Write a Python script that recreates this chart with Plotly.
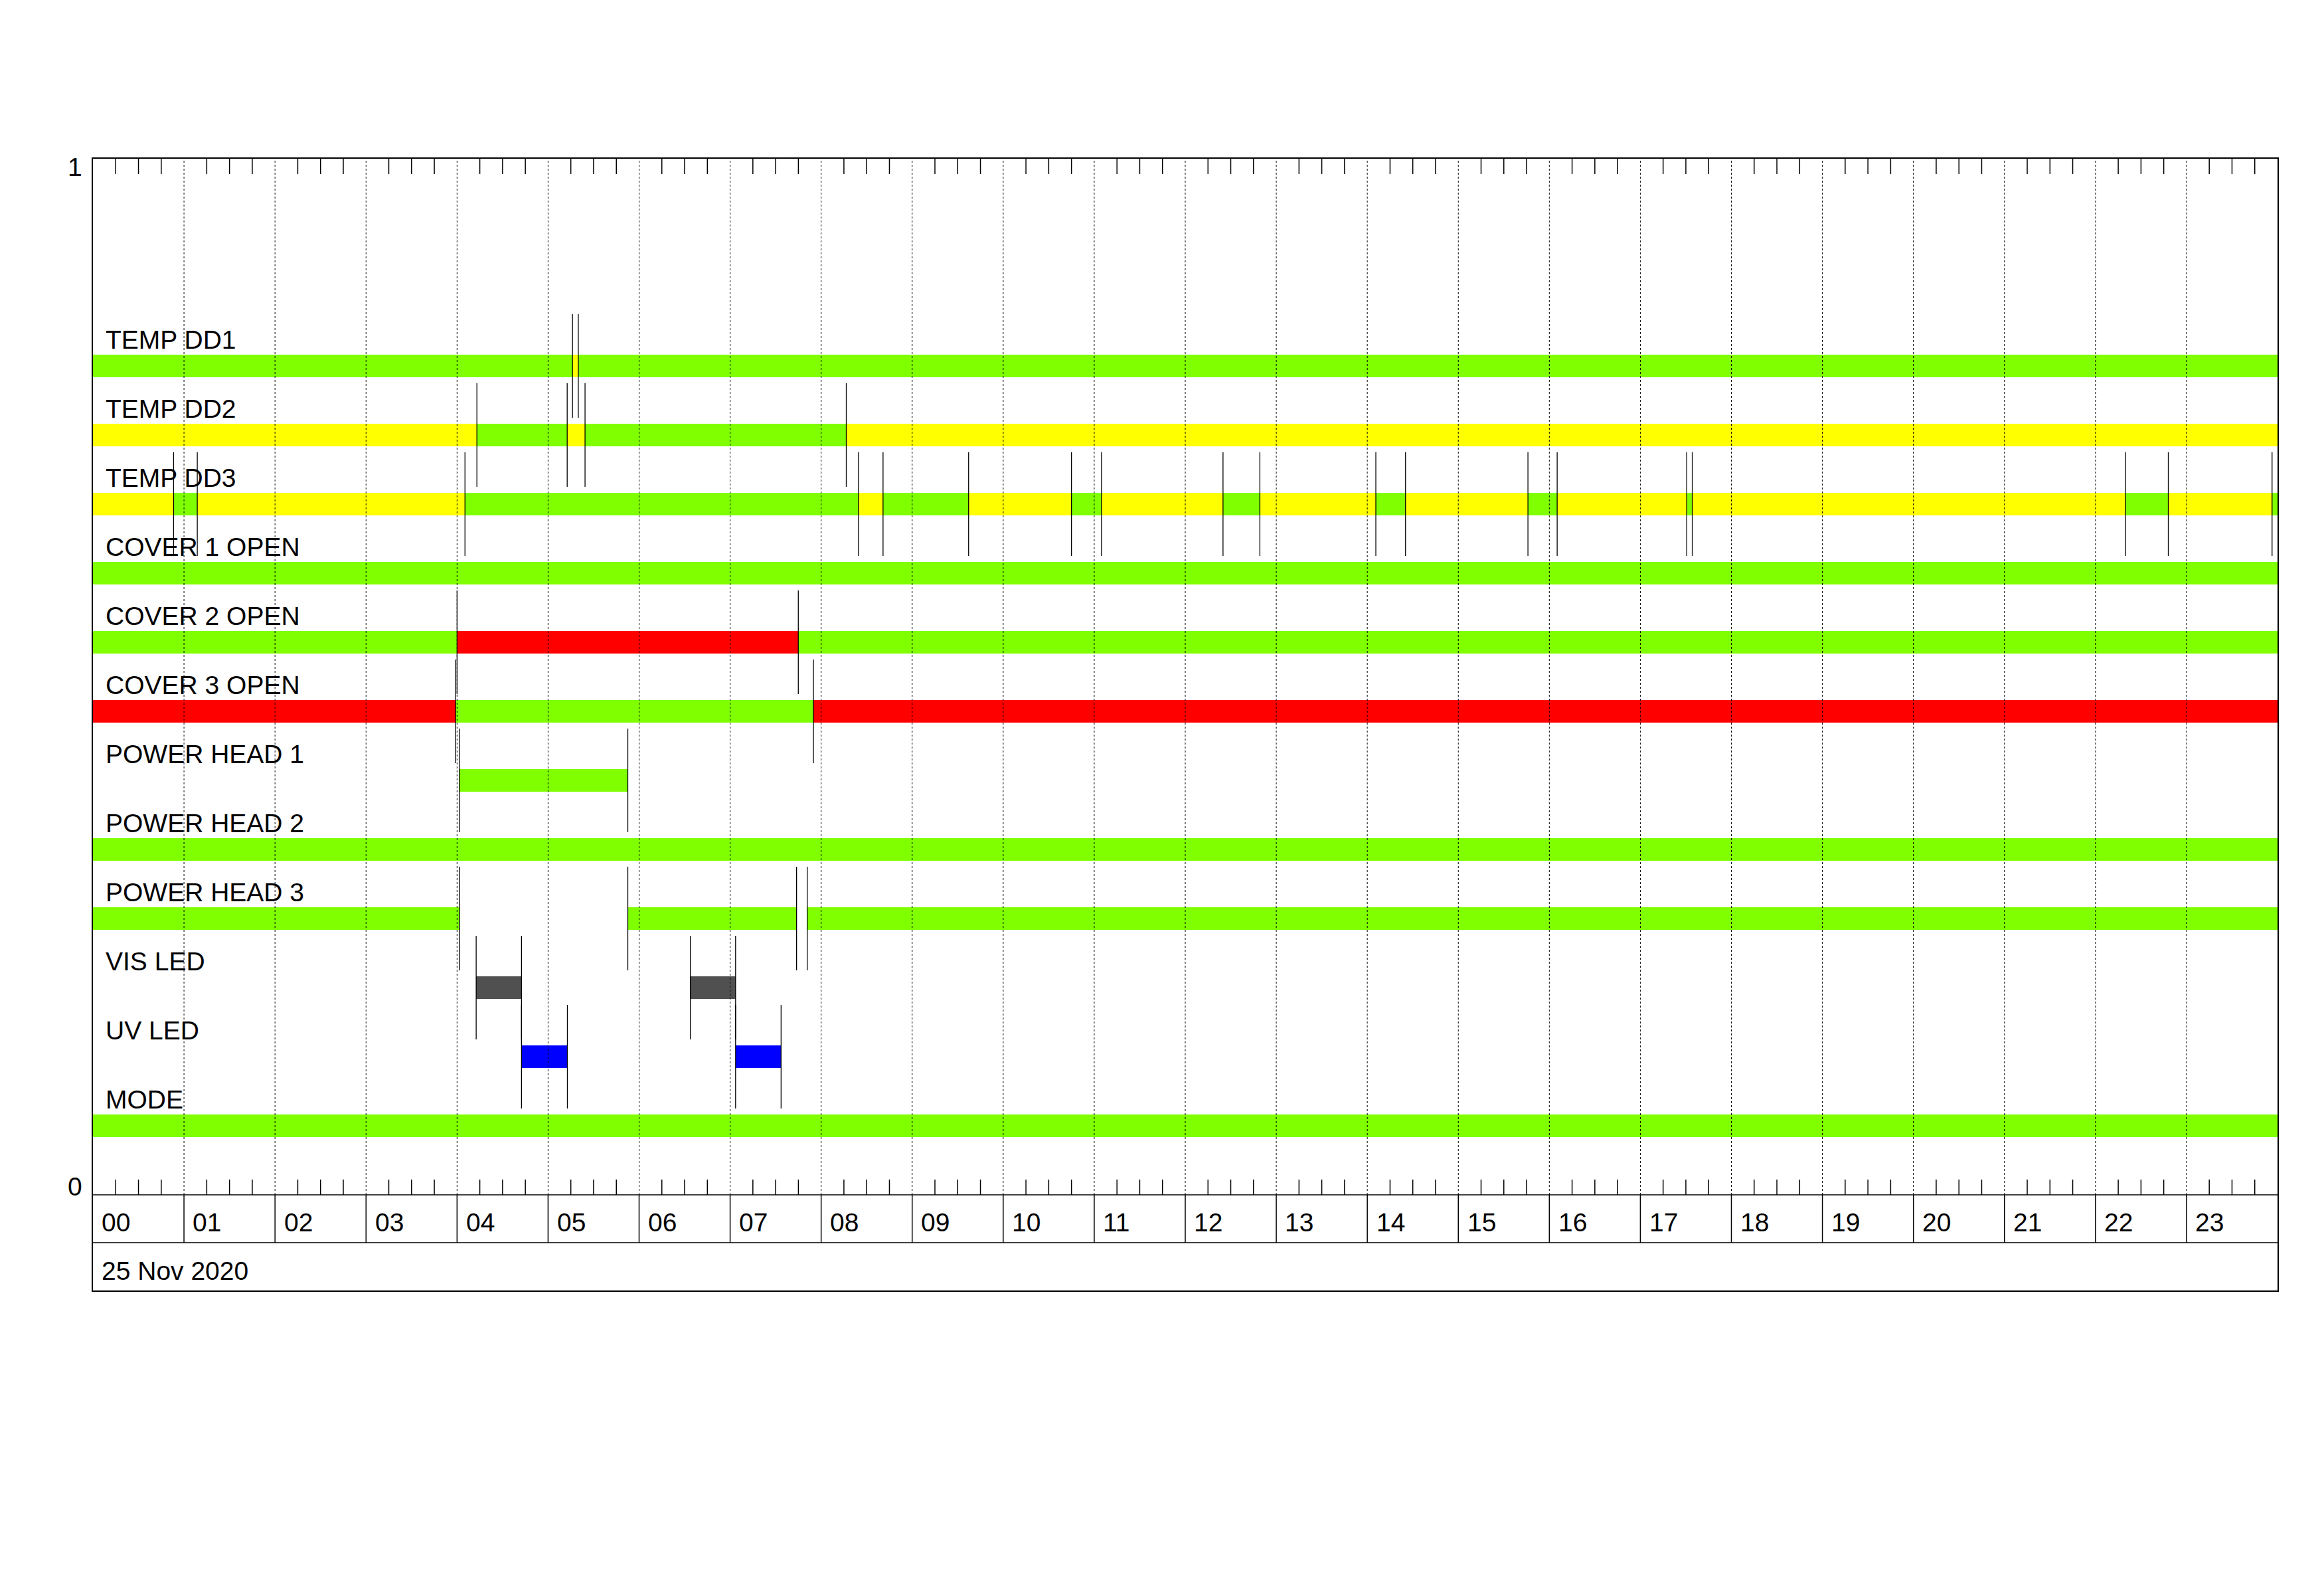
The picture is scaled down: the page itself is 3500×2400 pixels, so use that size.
"""
Status timeline for one day of housekeeping flags (25 Nov 2020).

Each row is a flag drawn as coloured state segments over 24 hours,
with a thin black marker at every change of state.
"""

import plotly.graph_objects as go

# Colours for the flag states
STATE_COLORS = {
    'ok': '#7FFF00',    # green
    'warn': '#FFFF00',  # yellow
    'bad': '#FF0000',   # red
    'vis': '#505050',   # dark grey
    'uv': '#0000FF',    # blue
}

ROW_LABELS = [
    'TEMP DD1', 'TEMP DD2', 'TEMP DD3',
    'COVER 1 OPEN', 'COVER 2 OPEN', 'COVER 3 OPEN',
    'POWER HEAD 1', 'POWER HEAD 2', 'POWER HEAD 3',
    'VIS LED', 'UV LED', 'MODE',
]

# Segment edges (hours of day) and the state in between; None = no data
TEMP_DD1_EDGES = [0, 5.268, 5.332, 24]
TEMP_DD1_STATES = ['ok', 'warn', 'ok']

TEMP_DD2_EDGES = [0, 4.218, 5.21, 5.406, 8.276, 24]
TEMP_DD2_STATES = ['warn', 'ok', 'warn', 'ok', 'warn']

TEMP_DD3_EDGES = [0, 0.886, 1.146, 4.087, 8.41, 8.68, 9.62, 10.75, 11.08,
                  12.415, 12.82, 14.094, 14.42, 15.765, 16.086, 17.51, 17.57,
                  22.33, 22.80, 23.94, 24]
TEMP_DD3_STATES = ['warn', 'ok'] * 10

COVER1_EDGES = [0, 24]
COVER1_STATES = ['ok']

COVER2_EDGES = [0, 4.0, 7.749, 24]
COVER2_STATES = ['ok', 'bad', 'ok']

COVER3_EDGES = [0, 3.985, 7.915, 24]
COVER3_STATES = ['bad', 'ok', 'bad']

HEAD1_EDGES = [0, 4.025, 5.876, 24]
HEAD1_STATES = [None, 'ok', None]

HEAD2_EDGES = [0, 24]
HEAD2_STATES = ['ok']

HEAD3_EDGES = [0, 4.027, 5.876, 7.73, 7.847, 24]
HEAD3_STATES = ['ok', None, 'ok', None, 'ok']

VIS_LED_EDGES = [0, 4.21, 4.708, 6.563, 7.06, 24]
VIS_LED_STATES = [None, 'vis', None, 'vis', None]

UV_LED_EDGES = [0, 4.708, 5.212, 7.06, 7.56, 24]
UV_LED_STATES = [None, 'uv', None, 'uv', None]

MODE_EDGES = [0, 24]
MODE_STATES = ['ok']

HOUR_LABELS = ['%02d' % h for h in range(24)]
DATE_LABEL = '25 Nov 2020'

ROWS = [
    (TEMP_DD1_EDGES, TEMP_DD1_STATES), (TEMP_DD2_EDGES, TEMP_DD2_STATES),
    (TEMP_DD3_EDGES, TEMP_DD3_STATES), (COVER1_EDGES, COVER1_STATES),
    (COVER2_EDGES, COVER2_STATES), (COVER3_EDGES, COVER3_STATES),
    (HEAD1_EDGES, HEAD1_STATES), (HEAD2_EDGES, HEAD2_STATES),
    (HEAD3_EDGES, HEAD3_STATES), (VIS_LED_EDGES, VIS_LED_STATES),
    (UV_LED_EDGES, UV_LED_STATES), (MODE_EDGES, MODE_STATES),
]

FONT = 'Liberation Sans, Arial, sans-serif'
FONT_SIZE = 39
BAR_H = 0.0212       # bar thickness in y units
MARK_H = 0.05        # half height of change markers
TICK_LEN = 0.0147
HOUR_ROW = -0.04615  # bottom of the hour label row
DATE_ROW = -0.0923   # bottom of the date row

fig = go.Figure()

# Hour grid (dotted) from 0 to 1
gx, gy = [], []
for h in range(1, 24):
    gx += [h, h, None]
    gy += [0, 1, None]
fig.add_trace(go.Scatter(x=gx, y=gy, mode='lines', hoverinfo='skip',
                         line=dict(color='black', width=1, dash='dot')))

# Quarter-hour ticks at top and bottom, plus hour-row separators
tx, ty = [], []
for h in range(24):
    for q in (0.25, 0.5, 0.75):
        tx += [h + q, h + q, None, h + q, h + q, None]
        ty += [1, 1 - TICK_LEN, None, 0, TICK_LEN, None]
for h in range(1, 24):
    tx += [h, h, None]
    ty += [HOUR_ROW, 0, None]
tx += [0, 24, None, 0, 24, None]
ty += [0, 0, None, HOUR_ROW, HOUR_ROW, None]
fig.add_trace(go.Scatter(x=tx, y=ty, mode='lines', hoverinfo='skip',
                         line=dict(color='black', width=1.5)))

# State-change markers
mx, my = [], []
for i, (edges, states) in enumerate(ROWS):
    yc = (12 - i) / 15
    for e in edges[1:-1]:
        mx += [e, e, None]
        my += [yc - MARK_H, yc + MARK_H, None]
fig.add_trace(go.Scatter(x=mx, y=my, mode='lines', hoverinfo='skip',
                         line=dict(color='black', width=1.3)))

# State bars
for i, (edges, states) in enumerate(ROWS):
    yc = (12 - i) / 15
    base, length, colors = [], [], []
    for a, b, s in zip(edges[:-1], edges[1:], states):
        if s is None:
            continue
        base.append(a)
        length.append(b - a)
        colors.append(STATE_COLORS[s])
    fig.add_trace(go.Bar(
        x=length, base=base, y=[yc] * len(base), orientation='h',
        width=BAR_H, marker=dict(color=colors, line=dict(width=0)),
        name=ROW_LABELS[i], hoverinfo='skip'
    ))

    fig.add_annotation(
        x=0.13, y=yc + BAR_H / 2, xref='x', yref='y',
        text=ROW_LABELS[i],
        showarrow=False, xanchor='left', yanchor='bottom', borderpad=0,
        font=dict(family=FONT, size=FONT_SIZE, color='black')
    )

# Hour labels and date
for h, lab in enumerate(HOUR_LABELS):
    fig.add_annotation(x=h + 0.09, y=-0.0269, text=lab, showarrow=False,
                       xanchor='left', yanchor='middle', borderpad=0,
                       font=dict(family=FONT, size=FONT_SIZE, color='black'))
fig.add_annotation(x=0.09, y=-0.0731, text=DATE_LABEL,
                   showarrow=False, xanchor='left', yanchor='middle', borderpad=0,
                   font=dict(family=FONT, size=FONT_SIZE, color='black'))

# Y axis end labels (outside the x range, so placed in paper space)
for val, ypos in ((1, 0.9917), (0, 0.0083)):
    fig.add_annotation(x=-0.0045, y=ypos, xref='paper', yref='y',
                       text=str(val), showarrow=False,
                       xanchor='right', yanchor='middle', borderpad=0,
                       font=dict(family=FONT, size=FONT_SIZE, color='black'))

# page body keeps an 8px margin, so the figure is trimmed to fit the window
fig.update_layout(
    width=3492, height=2392,
    margin=dict(l=132, r=70, t=231, b=457),
    paper_bgcolor='white', plot_bgcolor='white',
    showlegend=False, barmode='overlay', bargap=0,
    xaxis=dict(range=[0, 24], showgrid=False, zeroline=False,
               showticklabels=False, ticks='', showline=True, mirror=True,
               linecolor='black', linewidth=2),
    yaxis=dict(range=[DATE_ROW, 1], showgrid=False, zeroline=False,
               showticklabels=False, ticks='', showline=True, mirror=True,
               linecolor='black', linewidth=2),
)

fig.write_html("out.html")
